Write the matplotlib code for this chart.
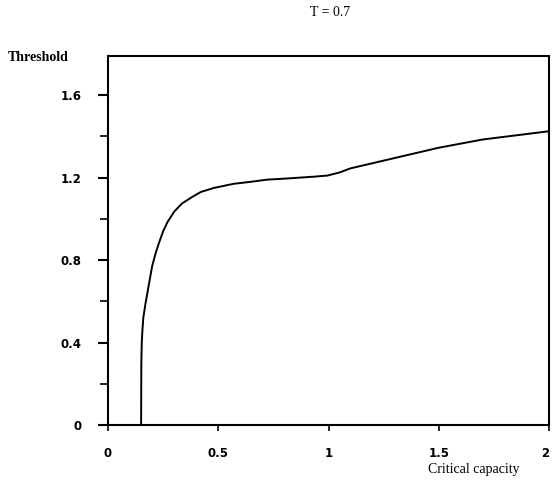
import matplotlib
matplotlib.use("Agg")
import matplotlib.pyplot as plt
from matplotlib.ticker import MultipleLocator

# Data
capacity = [0.0, 0.15, 0.151, 0.153, 0.156, 0.16, 0.17, 0.18, 0.19, 0.20, 0.215, 0.23, 0.25, 0.27, 0.30, 0.336,
            0.38, 0.42, 0.48, 0.57, 0.65, 0.72, 0.80, 0.87, 0.94, 0.995, 1.05, 1.1, 1.2, 1.3, 1.4, 1.5, 1.6, 1.7, 1.85, 2.0]
threshold = [0.0, 0.0, 0.30, 0.40, 0.46, 0.52, 0.59, 0.65, 0.71, 0.77, 0.83, 0.88, 0.94, 0.985, 1.035, 1.075,
             1.105, 1.13, 1.15, 1.17, 1.18, 1.19, 1.195, 1.20, 1.205, 1.21, 1.225, 1.245, 1.27, 1.295, 1.32, 1.345, 1.365, 1.385, 1.405, 1.425]

x_ticks = [0, 0.5, 1, 1.5, 2]
x_tick_labels = ["0", "0.5", "1", "1.5", "2"]
y_ticks = [0, 0.4, 0.8, 1.2, 1.6]
y_tick_labels = ["0", "0.4", "0.8", "1.2", "1.6"]

fig = plt.figure(figsize=(5.52, 4.91), dpi=100)
ax = fig.add_axes([0.1957, 0.1344, 0.7990, 0.7516])
ax.plot(capacity, threshold, color="black", lw=1.4)
ax.set_xlim(0, 2)
ax.set_ylim(0, 1.79)

ax.set_xticks(x_ticks)
ax.set_xticklabels(x_tick_labels, fontweight="bold", fontsize=8.5, family="DejaVu Sans")
ax.set_yticks(y_ticks)
ax.set_yticklabels(y_tick_labels, fontweight="bold", fontsize=8.5, family="DejaVu Sans")
ax.get_xticklabels()[-1].set_horizontalalignment("right")
ax.yaxis.set_minor_locator(MultipleLocator(0.2))
ax.tick_params(axis="y", which="major", direction="out", length=7, width=1.5, pad=12)
ax.tick_params(axis="y", which="minor", direction="out", length=6, width=1.2)
ax.tick_params(axis="x", which="major", direction="out", length=4, width=1.2, pad=12)
for s in ax.spines.values():
    s.set_linewidth(1.5)

fig.text(0.598, 0.975, "T = 0.7", ha="center", va="center", fontsize=10, family="Liberation Serif")
fig.text(0.015, 0.882, "Threshold", ha="left", va="center", fontsize=10, family="Liberation Serif", fontweight="bold")
fig.text(0.942, 0.043, "Critical capacity", ha="right", va="center", fontsize=10, family="Liberation Serif")

fig.savefig("out.png", dpi=100)
